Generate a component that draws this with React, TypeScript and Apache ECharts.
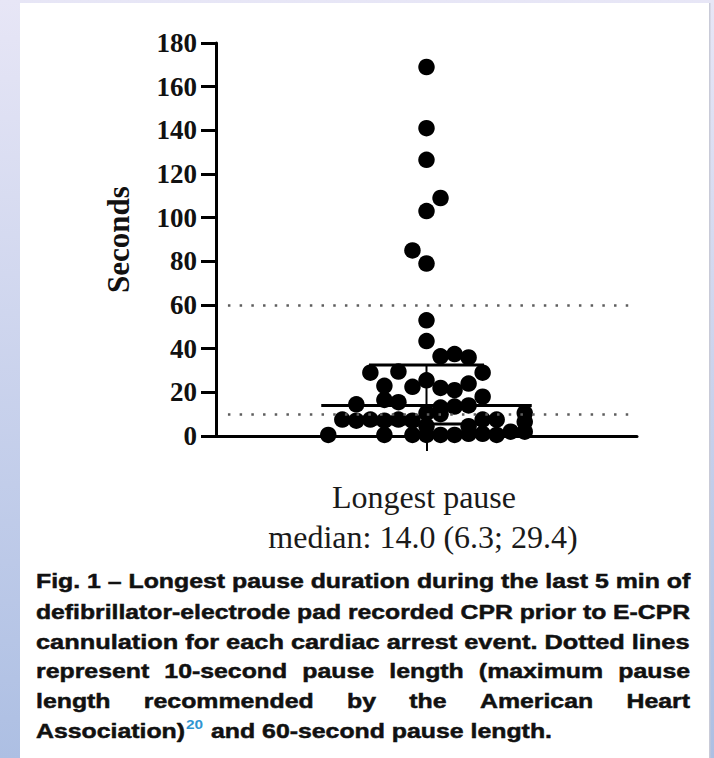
import React, { useEffect, useRef } from "react";
import * as echarts from "echarts";

// ---- data ----
// beeswarm column of each dot (dot-width steps from the group centre) and its value (s)
const swarmColumn = [
  0, 0, 0, 1, 0, -1, 0, 0, 0,
  1, 2, 3,
  -4, -2, 4,
  0,
  -3, -1, 1, 2, 3,
  4, -3, -2, -5,
  1, 2, 3,
  0, 1,
  7,
  -6, -5, -4, -3, -2, -1, 4, 5, 7,
  0, 3, 6,
  -7, -3, -1, 0, 1, 2, 3, 4, 5, 7,
];
const pauseSeconds = [
  169, 141, 126.5, 109, 103, 85, 79, 53, 43.5,
  36.5, 37.5, 36,
  29, 29.5, 29,
  25.5,
  23, 22.5, 22, 21, 24,
  18, 16.5, 15.5, 14.5,
  13, 13.5, 14,
  10.5, 10,
  10.5,
  7.5, 7, 7.5, 7, 7.5, 7, 7.5, 7.5, 6.5,
  4.5, 4.5, 2,
  0.5, 0.5, 0.5, 0.5, 0.5, 0.5, 1, 1, 0.5, 2,
];
const summaryLines = { median: 14.0, lowerQuartile: 5.5, upperQuartile: 32.5 };
const thresholdSeconds = [10, 60];
const yMin = 0;
const yMax = 180;
const yStep = 20;
const yAxisTitle = "Seconds";
const groupLabel = "Longest pause";
const summaryLabel = "median: 14.0 (6.3; 29.4)";
const captionLines = [
  "Fig. 1 – Longest pause duration during the last 5 min of",
  "defibrillator-electrode pad recorded CPR prior to E-CPR",
  "cannulation for each cardiac arrest event. Dotted lines",
  "represent 10-second pause length (maximum pause",
  "length recommended by the American Heart",
];
const captionLastStart = "Association)";
const captionRefNumber = "20";
const captionLastEnd = " and 60-second pause length.";

const SERIF = "'Liberation Serif', 'Times New Roman', serif";

export default function App() {
  const ref = useRef<HTMLDivElement>(null);

  useEffect(() => {
    const el = ref.current;
    if (!el) return;
    const chart = echarts.init(el, null, { renderer: "svg" });

    // caption layout (justified text)
    const capSize = 21;
    const capFont = `bold ${capSize}px 'Liberation Sans'`;
    const ctx = document.createElement("canvas").getContext("2d")!;
    ctx.font = capFont;
    const measure = (t: string) => ctx.measureText(t).width;
    const capLeft = 36;
    const capRight = 690;
    const capW = capRight - capLeft;
    const baselines = [588, 619, 649, 678, 708, 738];
    const s = capW / measure(captionLines[0]);
    const capStyle = (text: string) => ({
      text,
      font: capFont,
      fill: "#111",
      stroke: "#111",
      lineWidth: 0.5,
      textAlign: "left",
      textVerticalAlign: "middle",
    });
    const capEls: any[] = [];
    captionLines.forEach((line, i) => {
      const y = baselines[i] - 7;
      if (i < 3) {
        capEls.push({
          type: "text",
          x: capLeft,
          y,
          scaleX: capW / measure(line),
          style: capStyle(line),
        });
      } else {
        const words = line.split(" ");
        const widths = words.map((w) => measure(w) * s);
        const total = widths.reduce((a, b) => a + b, 0);
        const gap = (capW - total) / (words.length - 1);
        let x = capLeft;
        words.forEach((w, k) => {
          capEls.push({ type: "text", x, y, scaleX: s, style: capStyle(w) });
          x += widths[k] + gap;
        });
      }
    });
    {
      const y = baselines[5] - 7;
      const w1 = measure(captionLastStart) * s;
      capEls.push({ type: "text", x: capLeft, y, scaleX: s, style: capStyle(captionLastStart) });
      ctx.font = `bold 13px 'Liberation Sans'`;
      const wSup = ctx.measureText(captionRefNumber).width * s;
      ctx.font = capFont;
      capEls.push({
        type: "text",
        x: capLeft + w1 + 1,
        y: y - 7,
        scaleX: s,
        style: {
          text: captionRefNumber,
          font: `bold 13px 'Liberation Sans'`,
          fill: "#2f95d2",
          textAlign: "left",
          textVerticalAlign: "middle",
        },
      });
      capEls.push({
        type: "text",
        x: capLeft + w1 + wSup + 2,
        y,
        scaleX: s,
        style: capStyle(captionLastEnd),
      });
    }

    const scatterData = pauseSeconds.map((v, i) => [swarmColumn[i], v]);
    const { median, lowerQuartile, upperQuartile } = summaryLines;

    const barLine = (data: number[][], width: number) => ({
      type: "line",
      data,
      symbol: "none",
      silent: true,
      z: 4,
      lineStyle: { color: "#000", width },
    });

    chart.setOption({
      animation: false,
      backgroundColor: "transparent",
      grid: { left: 216, right: 77, top: 43, bottom: 322, outerBoundsMode: "none" },
      xAxis: {
        type: "value",
        min: -15,
        max: 15,
        splitLine: { show: false },
        axisLabel: { show: false },
        axisLine: { show: true, onZero: false, lineStyle: { color: "#000", width: 3 } },
        axisTick: {
          show: true,
          customValues: [0],
          length: 15,
          inside: false,
          lineStyle: { color: "#000", width: 2 },
        },
      },
      yAxis: {
        type: "value",
        min: yMin,
        max: yMax,
        interval: yStep,
        name: yAxisTitle,
        nameLocation: "middle",
        nameGap: 82,
        nameTextStyle: {
          fontFamily: SERIF,
          fontWeight: "bold",
          fontSize: 31,
          color: "#111",
        },
        splitLine: { show: false },
        axisLine: { show: true, onZero: false, lineStyle: { color: "#000", width: 3 } },
        axisTick: { show: true, length: 15, inside: false, lineStyle: { color: "#000", width: 3 } },
        axisLabel: {
          margin: 19,
          fontFamily: SERIF,
          fontWeight: "bold",
          fontSize: 27,
          color: "#111",
        },
      },
      graphic: [
        {
          type: "group",
          z: -100,
          silent: true,
          children: [
            {
              type: "rect",
              shape: { x: 0, y: 0, width: 714, height: 758 },
              style: {
                fill: {
                  type: "linear",
                  x: 0,
                  y: 0,
                  x2: 0,
                  y2: 1,
                  colorStops: [
                    { offset: 0, color: "#e7e6f6" },
                    { offset: 1, color: "#adbfe3" },
                  ],
                },
              },
            },
            {
              type: "rect",
              shape: { x: 20, y: 3, width: 689, height: 755 },
              style: { fill: "#ffffff" },
            },
            {
              type: "rect",
              shape: { x: 709, y: 3, width: 1.5, height: 755 },
              style: { fill: "#c9cbd8" },
            },
          ],
        },
        {
          type: "group",
          z: 10,
          children: [
            {
              type: "text",
              x: 424,
              y: 497,
              style: {
                text: groupLabel,
                font: `32px ${SERIF}`,
                fill: "#1a1a1a",
                textAlign: "center",
                textVerticalAlign: "middle",
              },
            },
            {
              type: "text",
              x: 423,
              y: 537,
              style: {
                text: summaryLabel,
                font: `32px ${SERIF}`,
                fill: "#1a1a1a",
                textAlign: "center",
                textVerticalAlign: "middle",
              },
            },
            ...capEls,
          ],
        },
      ],
      series: [
        {
          type: "scatter",
          data: scatterData,
          symbol: "circle",
          symbolSize: 16.5,
          itemStyle: { color: "#000", opacity: 1 },
          z: 3,
          markLine: {
            silent: true,
            animation: false,
            symbol: ["none", "none"],
            label: { show: false },
            lineStyle: { color: "#5e5e5e", width: 2.5, type: [2.5, 9.2], opacity: 1 },
            data: thresholdSeconds.map((v) => [{ coord: [-14.15, v] }, { coord: [14.85, v] }]),
          },
        },
        barLine([[-7.5, median], [7.5, median]], 3),
        barLine([[-4.1, upperQuartile], [4.1, upperQuartile]], 3),
        barLine([[-4.1, lowerQuartile], [4.1, lowerQuartile]], 3),
        barLine([[0, lowerQuartile], [0, upperQuartile]], 2),
      ],
    });

    return () => chart.dispose();
  }, []);

  return (
    <div
      ref={ref}
      style={{ position: "absolute", left: 0, top: 0, width: 714, height: 758 }}
    />
  );
}
